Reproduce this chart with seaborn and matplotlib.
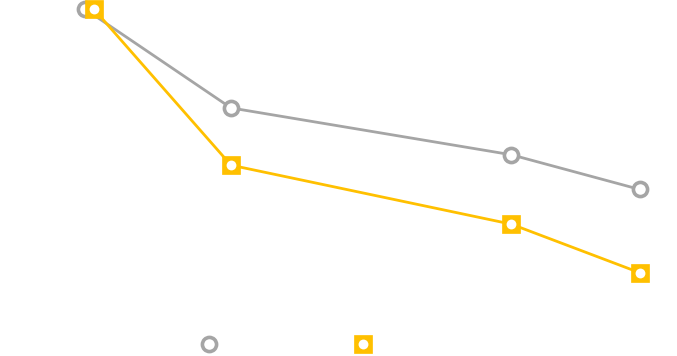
import matplotlib
matplotlib.use("Agg")
import matplotlib.pyplot as plt
import seaborn as sns
from matplotlib.lines import Line2D
from matplotlib.legend_handler import HandlerTuple

# values (no axes or labels are shown)
x_gray = [1.0, 2.0, 3.92, 4.80]
gray_vals = [100, 71.5, 58, 48]
x_gold = [1.06, 2.0, 3.92, 4.80]
gold_vals = [100, 55, 38, 24]

GRAY = "#A5A5A5"
GOLD = "#FFC000"

sns.set_theme(style="white")
fig = plt.figure(figsize=(6.77, 3.56), dpi=100)
ax = fig.add_axes([0, 0, 1, 1])

circ = dict(marker="o", markersize=10.2, markerfacecolor="white",
            mec=GRAY, mew=2.6)
sq = dict(marker="s", markersize=12.6, markerfacecolor=GOLD, mec=GOLD, mew=0.5)

sns.lineplot(x=x_gray, y=gray_vals, ax=ax, color=GRAY, linewidth=2,
             zorder=2, **circ)
sns.lineplot(x=x_gold, y=gold_vals, ax=ax, color=GOLD, linewidth=2,
             zorder=3, **sq)
sns.scatterplot(x=x_gold, y=gold_vals, ax=ax, color="white", s=50,
                marker="o", linewidth=0, zorder=4)

ax.set_xlim(0.418, 5.055)
ax.set_ylim(0, 102.6)
ax.axis("off")

h_gray = Line2D([], [], color=GRAY, linestyle="none", **circ)
h_sq = Line2D([], [], color=GOLD, linestyle="none", **sq)
h_dot = Line2D([], [], color="white", linestyle="none", marker="o",
               markersize=7.1, markerfacecolor="white", mew=0)
fig.legend([h_gray, (h_sq, h_dot)], ["", ""], ncol=2, frameon=False,
           loc="center", bbox_to_anchor=(0.4225, 0.031),
           handler_map={tuple: HandlerTuple(ndivide=1, pad=0)},
           handlelength=1, handletextpad=0, columnspacing=9.1)

fig.savefig("out.png", dpi=100)
